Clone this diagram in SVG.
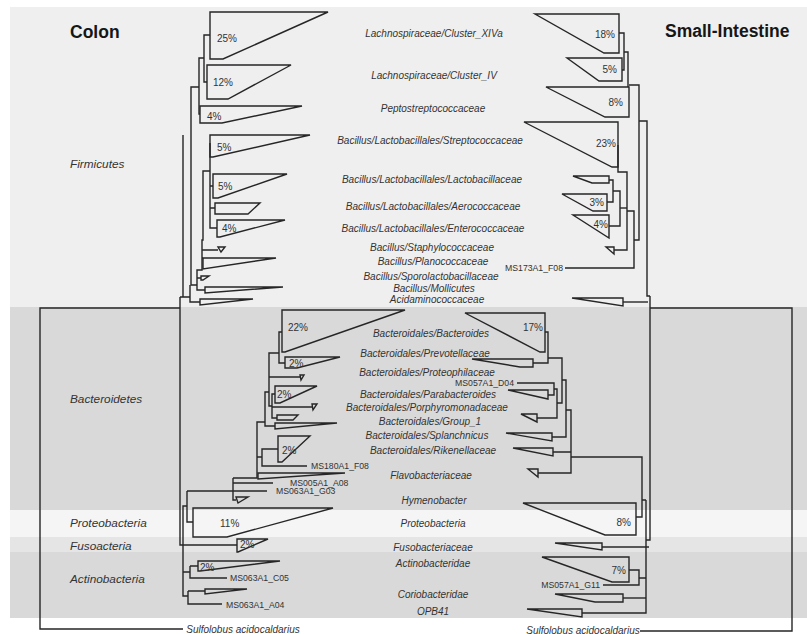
<svg xmlns="http://www.w3.org/2000/svg" width="807" height="634" viewBox="0 0 807 634">
<style>
.ln{fill:none;stroke:#262626;stroke-width:1.4;stroke-linejoin:miter}
.cl{fill:none;stroke:#262626;stroke-width:1.4;stroke-linejoin:miter}
text{font-family:"Liberation Sans",Arial,sans-serif;fill:#333}
.lab{font-size:10px;font-style:italic;text-anchor:middle}
.phy{font-size:11.8px;font-style:italic}
.pct{font-size:10px}
.pr{font-size:10px;text-anchor:end}
.ms{font-size:8.7px}
.msr{font-size:8.7px;text-anchor:end}
.ttl{font-size:17.5px;font-weight:bold;fill:#161616}
</style>
<rect x="0" y="0" width="807" height="634" fill="#ffffff"/>
<g id="bands">
<rect x="10" y="7" width="797" height="300" fill="#efefef"/>
<rect x="10" y="307" width="797" height="203" fill="#d9d9d9"/>
<rect x="10" y="510" width="797" height="27" fill="#f5f5f5"/>
<rect x="10" y="537" width="797" height="15" fill="#e5e5e5"/>
<rect x="10" y="552" width="797" height="66" fill="#d9d9d9"/>
</g>
<g id="titles">
<text class="ttl" x="70" y="38">Colon</text>
<text class="ttl" x="665" y="37">Small-Intestine</text>
<text class="phy" x="70" y="168">Firmicutes</text>
<text class="phy" x="70" y="403">Bacteroidetes</text>
<text class="phy" x="70" y="527">Proteobacteria</text>
<text class="phy" x="70" y="550">Fusoacteria</text>
<text class="phy" x="70" y="583">Actinobacteria</text>
</g>
<g id="taxa">
<text class="lab" x="434" y="36.5">Lachnospiraceae/Cluster_XIVa</text>
<text class="lab" x="434" y="78.5">Lachnospiraceae/Cluster_IV</text>
<text class="lab" x="433" y="111.5">Peptostreptococcaceae</text>
<text class="lab" x="430" y="143.5">Bacillus/Lactobacillales/Streptococcaceae</text>
<text class="lab" x="432" y="182.5">Bacillus/Lactobacillales/Lactobacillaceae</text>
<text class="lab" x="433" y="209.5">Bacillus/Lactobacillales/Aerococcaceae</text>
<text class="lab" x="433" y="231.5">Bacillus/Lactobacillales/Enterococcaceae</text>
<text class="lab" x="432" y="250.5">Bacillus/Staphylococcaceae</text>
<text class="lab" x="433" y="264.5">Bacillus/Planococcaceae</text>
<text class="lab" x="431" y="279.5">Bacillus/Sporolactobacillaceae</text>
<text class="lab" x="434" y="291.5">Bacillus/Mollicutes</text>
<text class="lab" x="437" y="302.5">Acidaminococcaceae</text>
<text class="lab" x="431" y="336.5">Bacteroidales/Bacteroides</text>
<text class="lab" x="425" y="356.5">Bacteroidales/Prevotellaceae</text>
<text class="lab" x="427" y="375.5">Bacteroidales/Proteophilaceae</text>
<text class="lab" x="428" y="397.5">Bacteroidales/Parabacteroides</text>
<text class="lab" x="427" y="410.5">Bacteroidales/Porphyromonadaceae</text>
<text class="lab" x="430" y="424.5">Bacteroidales/Group_1</text>
<text class="lab" x="427" y="438.5">Bacteroidales/Splanchnicus</text>
<text class="lab" x="433" y="453.5">Bacteroidales/Rikenellaceae</text>
<text class="lab" x="431" y="478.5">Flavobacteriaceae</text>
<text class="lab" x="434" y="503.5">Hymenobacter</text>
<text class="lab" x="433" y="526.5">Proteobacteria</text>
<text class="lab" x="433" y="550.5">Fusobacteriaceae</text>
<text class="lab" x="433" y="566.5">Actinobacteridae</text>
<text class="lab" x="433" y="597.5">Coriobacteridae</text>
<text class="lab" x="433" y="614.5">OPB41</text>
<text class="lab" x="243" y="632.5">Sulfolobus acidocaldarius</text>
<text class="lab" x="583" y="633.5">Sulfolobus acidocaldarius</text>
</g>
<g id="colon-clades">
<path class="cl" d="M210,12 H328 L223,59 H210 Z"/>
<path class="cl" d="M207,65 H291 L228,99 H207 Z"/>
<path class="cl" d="M200,106 H302 L222,123 H200 Z"/>
<path class="cl" d="M210,135 H310 L213,157 H210 Z"/>
<path class="cl" d="M213,174 H287 L218,198 H213 Z"/>
<path class="cl" d="M215,203 H260 L248,214 H215 Z"/>
<path class="cl" d="M217,220 H285 L220,237 H217 Z"/>
<path class="cl" d="M218,247 H225 L221,252 Z"/>
<path class="cl" d="M203,258 H276 L203,269 Z"/>
<path class="cl" d="M201,276 H209 L203,280 H201 Z"/>
<path class="cl" d="M205,287 H283 L205,293 Z"/>
<path class="cl" d="M200,299 H253 L200,305 Z"/>
<path class="cl" d="M282,310 H405 L285,352 H282 Z"/>
<path class="cl" d="M285,357 H340 L297,368 H285 Z"/>
<path class="cl" d="M300,375 H304 L301,380 Z"/>
<path class="cl" d="M275,386 H317 L280,403 H275 Z"/>
<path class="cl" d="M312,404 H317 L313,410 Z"/>
<path class="cl" d="M277,415 H298 L293,420 H277 Z"/>
<path class="cl" d="M275,423 H337 L275,429 Z"/>
<path class="cl" d="M278,436 H310 L282,462 H278 Z"/>
<path class="cl" d="M258,473 H345 L258,479 Z"/>
<path class="cl" d="M236,497 H248 L238,503 Z"/>
<path class="cl" d="M193,508 H333 L227,537 H193 Z"/>
<path class="cl" d="M237,539 H268 L238,552 H237 Z"/>
<path class="cl" d="M198,561 H280 L200,571 H198 Z"/>
<path class="cl" d="M205,589 H247 L205,594 Z"/>
<text class="pct" x="217" y="41.5">25%</text>
<text class="pct" x="213" y="85.5">12%</text>
<text class="pct" x="207" y="119.5">4%</text>
<text class="pct" x="217" y="150.5">5%</text>
<text class="pct" x="218" y="189.5">5%</text>
<text class="pct" x="222" y="231.5">4%</text>
<text class="pct" x="288" y="330.5">22%</text>
<text class="pct" x="289" y="366.5">2%</text>
<text class="pct" x="277" y="397.5">2%</text>
<text class="pct" x="282" y="453.5">2%</text>
<text class="pct" x="220" y="526.5">11%</text>
<text class="pct" x="240" y="547.5">2%</text>
<text class="pct" x="200" y="570.5">2%</text>
<text class="ms" x="311" y="469">MS180A1_F08</text>
<text class="ms" x="290" y="486">MS005A1_A08</text>
<text class="ms" x="276" y="494">MS063A1_G03</text>
<text class="ms" x="230" y="581">MS063A1_C05</text>
<text class="ms" x="226" y="608">MS063A1_A04</text>
</g>
<g id="si-clades">
<path class="cl" d="M535,14 H619 V53 H604 Z"/>
<path class="cl" d="M567,58 H622 V81 H599 Z"/>
<path class="cl" d="M546,87 H629 V117 H605 Z"/>
<path class="cl" d="M524,122 H618 V167 H612 Z"/>
<path class="cl" d="M573,176 H609 V183 H592 Z"/>
<path class="cl" d="M562,194 H607 V211 H593 Z"/>
<path class="cl" d="M573,215 H609 V238 Z"/>
<path class="cl" d="M606,247 H614 V254 Z"/>
<path class="cl" d="M572,298 H623 V306 Z"/>
<path class="cl" d="M465,313 H545 V352 H540 Z"/>
<path class="cl" d="M472,359 H533 V367 H520 Z"/>
<path class="cl" d="M508,390 H548 V399 Z"/>
<path class="cl" d="M521,414 H537 V422 Z"/>
<path class="cl" d="M506,433 H552 V441 Z"/>
<path class="cl" d="M513,448 H553 V456 Z"/>
<path class="cl" d="M528,469 H538 V477 Z"/>
<path class="cl" d="M523,503 H636 V535 H605 Z"/>
<path class="cl" d="M555,543 H602 V550 Z"/>
<path class="cl" d="M542,557 H629 V582 H612 Z"/>
<path class="cl" d="M555,594 H623 V602 H595 Z"/>
<path class="cl" d="M527,609 H582 V617 Z"/>
<text class="pr" x="615" y="37.5">18%</text>
<text class="pr" x="617" y="72.5">5%</text>
<text class="pr" x="623" y="105.5">8%</text>
<text class="pr" x="616" y="146.5">23%</text>
<text class="pr" x="604" y="205.5">3%</text>
<text class="pr" x="608" y="227.5">4%</text>
<text class="pr" x="543" y="330.5">17%</text>
<text class="pr" x="631" y="525.5">8%</text>
<text class="pr" x="626" y="573.5">7%</text>
<text class="msr" x="563" y="271">MS173A1_F08</text>
<text class="msr" x="514" y="386">MS057A1_D04</text>
<text class="msr" x="600" y="588">MS057A1_G11</text>
</g>
<g id="connectors">
<path class="ln" d="M210,35 H204 V82 H207"/>
<path class="ln" d="M204,58 H199 V114 H200"/>
<path class="ln" d="M199,87 H191 V285 H197"/>
<path class="ln" d="M210,143 V228 H217 M210,186 H213 M210,208 H215"/>
<path class="ln" d="M210,171 H203 V240 H202 V270 H197 V290 H205 M202,250 H218 M202,258 H203 M197,278 H201"/>
<path class="ln" d="M183,135 V297 H180 M190,285 V302 H200 M183,297 H190"/>
<path class="ln" d="M180,297 V545 H183"/>
<path class="ln" d="M180,308 H40 V629 H183"/>
<path class="ln" d="M282,332 H279 V363 H285"/>
<path class="ln" d="M279,353 H269 V406 H272 M269,377 H300"/>
<path class="ln" d="M275,394 H272 V418 H277 M272,407 H312"/>
<path class="ln" d="M269,392 H265 V426 H275"/>
<path class="ln" d="M265,422 H257 V478 H233 M257,457 H262 M278,449 H262 V466 H307"/>
<path class="ln" d="M233,478 V500 H236 M233,483 H273 M187,491 H267"/>
<path class="ln" d="M187,491 V522 H193"/>
<path class="ln" d="M187,506 H183 V596 H188 M183,545 H237 M183,572 H190"/>
<path class="ln" d="M190,566 V578 H227 M190,566 H198"/>
<path class="ln" d="M188,591 V604 H222 M188,591 H205"/>
<path class="ln" d="M619,33 H624 V70 H622"/>
<path class="ln" d="M624,52 H628 V87"/>
<path class="ln" d="M629,85 H639 V240 H634"/>
<path class="ln" d="M627,211 H634 V268 H565"/>
<path class="ln" d="M618,145 V172 H627 V250 H614"/>
<path class="ln" d="M609,180 H613 V202 H607"/>
<path class="ln" d="M613,191 H620 V226 H609"/>
<path class="ln" d="M620,208 H627"/>
<path class="ln" d="M639,121 H647 V296 H650"/>
<path class="ln" d="M623,302 H648"/>
<path class="ln" d="M650,296 V540 H646"/>
<path class="ln" d="M650,308 H792 V631 H640"/>
<path class="ln" d="M646,500 V613 H582"/>
<path class="ln" d="M642,500 H646 M571,457 H642 V517 H636"/>
<path class="ln" d="M602,547 H649"/>
<path class="ln" d="M629,570 H639 V585 H603 M639,578 H646"/>
<path class="ln" d="M623,598 H646"/>
<path class="ln" d="M545,332 H548 V363 H533"/>
<path class="ln" d="M548,358 H562 V403 H557"/>
<path class="ln" d="M517,383 H554 V395 H548"/>
<path class="ln" d="M554,389 H557 V418 H537"/>
<path class="ln" d="M562,380 H566 V437 H552"/>
<path class="ln" d="M566,410 H571 V473 H538 M553,452 H571"/>
</g>
</svg>
